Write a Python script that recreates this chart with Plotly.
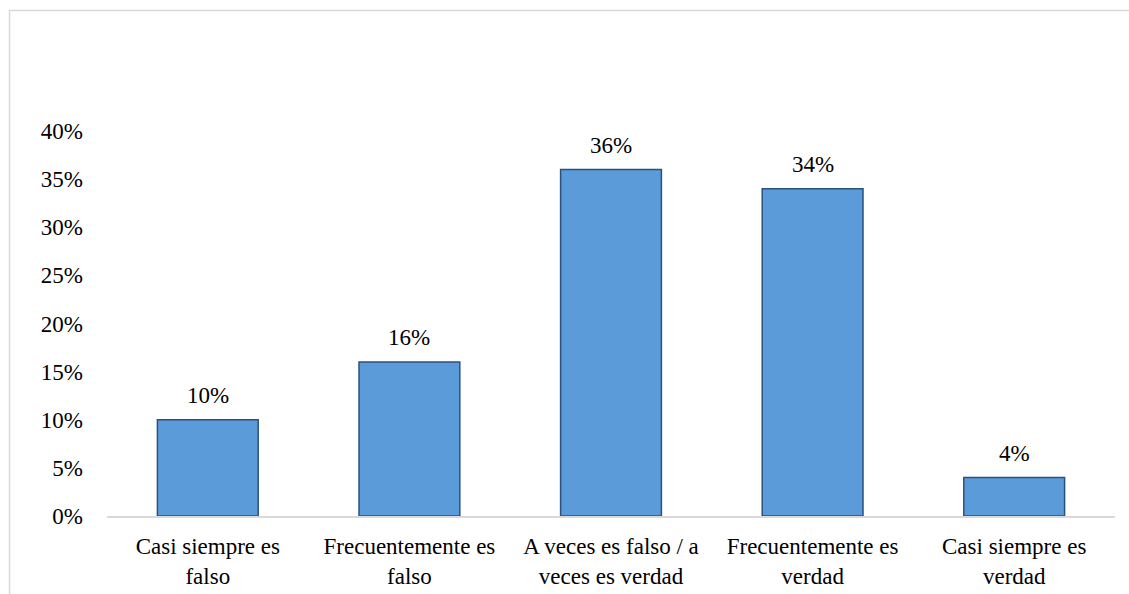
import plotly.graph_objects as go

categories = [
    "Casi siempre es<br>falso",
    "Frecuentemente es<br>falso",
    "A veces es falso / a<br>veces es verdad",
    "Frecuentemente es<br>verdad",
    "Casi siempre es<br>verdad",
]
values = [0.10, 0.16, 0.36, 0.34, 0.04]
y_ticks = [0, 0.05, 0.10, 0.15, 0.20, 0.25, 0.30, 0.35, 0.40]

FONT = "Liberation Serif, Times New Roman, serif"
FS = 23

fig = go.Figure(
    go.Bar(
        x=categories,
        y=values,
        marker=dict(color="#5b9bd9", line=dict(color="#2b527d", width=1.5)),
        width=0.5,
        cliponaxis=False,
    )
)

for c, v in zip(categories, values):
    fig.add_annotation(
        x=c, y=v, text=f"{v:.0%}", showarrow=False,
        yanchor="bottom", yshift=10,
        font=dict(family=FONT, size=FS, color="#000000"),
    )

fig.update_layout(
    width=1129,
    height=594,
    margin=dict(l=107, r=14, t=131, b=78),
    paper_bgcolor="white",
    plot_bgcolor="white",
    font=dict(family=FONT, size=FS, color="#000000"),
    showlegend=False,
    shapes=[
        dict(
            type="rect", xref="paper", yref="paper",
            x0=-0.0967, x1=1.1, y0=-0.5, y1=1.313,
            line=dict(color="#d9d9d9", width=1.5),
            fillcolor="rgba(0,0,0,0)", layer="below",
        )
    ],
)

fig.update_yaxes(
    range=[0, 0.40],
    tickvals=y_ticks,
    tickformat=".0%",
    showgrid=False,
    zeroline=False,
    showline=False,
    ticks="",
    ticklabelstandoff=23,
    automargin=False,
    tickfont=dict(family=FONT, size=FS),
)
fig.update_xaxes(
    showline=True,
    linecolor="#d9d9d9",
    linewidth=1.5,
    ticks="",
    showgrid=False,
    ticklabelstandoff=9,
    automargin=False,
    tickfont=dict(family=FONT, size=FS),
)

fig.write_html(
    "out.html",
    config={"displayModeBar": False},
    post_script=(
        "document.body.style.margin='0px';"
        "document.body.style.overflow='hidden';"
        "document.documentElement.style.overflow='hidden';"
    ),
)
